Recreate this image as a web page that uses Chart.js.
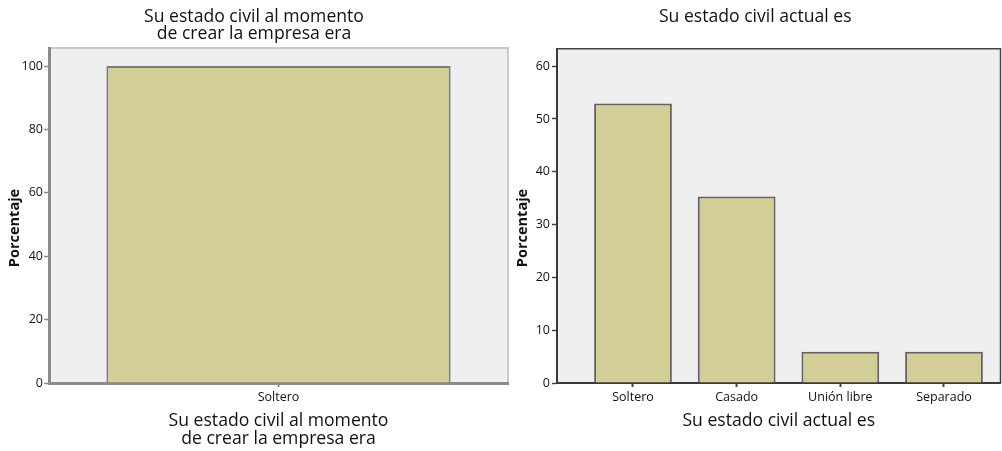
<!DOCTYPE html>
<html>
<head>
    <title>Estado civil</title>
    <script src="https://cdn.jsdelivr.net/npm/chart.js"></script>
    <style>
        body { margin: 0; background: #fff; }
        .wrap { position: relative; width: 1002px; height: 451px; }
        #leftChart { position: absolute; left: 0; top: 0; }
        #rightChart { position: absolute; left: 510px; top: 0; }
    </style>
</head>
<body>
    <div class="wrap">
        <canvas id="leftChart" width="520" height="451"></canvas>
        <canvas id="rightChart" width="492" height="451"></canvas>
    </div>

    <script>
        // datos
        const leftTitle = ['Su estado civil al momento', 'de crear la empresa era'];
        const leftCategories = ['Soltero'];
        const leftValues = [100];
        const leftTicks = [0, 20, 40, 60, 80, 100];

        const rightTitle = 'Su estado civil actual es';
        const rightCategories = ['Soltero', 'Casado', 'Unión libre', 'Separado'];
        const rightValues = [52.9, 35.3, 5.9, 5.9];
        const rightTicks = [0, 10, 20, 30, 40, 50, 60];

        const yLabel = 'Porcentaje';
        const FONT = "'Open Sans', sans-serif";

        // fondo gris y marco del area
        function boxPlugin(borderColor, borderWidth) {
            return {
                id: 'box',
                beforeDraw(chart) {
                    const a = chart.chartArea;
                    const ctx = chart.ctx;
                    ctx.save();
                    ctx.fillStyle = '#efefef';
                    ctx.fillRect(a.left, a.top, a.right - a.left, a.bottom - a.top);
                    ctx.strokeStyle = borderColor;
                    ctx.lineWidth = borderWidth;
                    ctx.beginPath();
                    ctx.moveTo(a.left, a.top);
                    ctx.lineTo(a.right, a.top);
                    ctx.lineTo(a.right, a.bottom);
                    ctx.stroke();
                    ctx.restore();
                }
            };
        }

        // titulo del eje Y (SPSS lo centra un poco mas abajo)
        function yTitlePlugin(x) {
            return {
                id: 'ytitle',
                afterDraw(chart) {
                    const ctx = chart.ctx;
                    ctx.save();
                    ctx.translate(x, 228);
                    ctx.rotate(-Math.PI / 2);
                    ctx.font = "bold 14.5px 'Open Sans', sans-serif";
                    ctx.fillStyle = '#111';
                    ctx.textAlign = 'center';
                    ctx.textBaseline = 'middle';
                    ctx.fillText(yLabel, 0, 0);
                    ctx.restore();
                }
            };
        }

        function createLeftChart() {
            const ctx = document.getElementById('leftChart').getContext('2d');
            new Chart(ctx, {
                type: 'bar',
                data: {
                    labels: leftCategories,
                    datasets: [{
                        data: leftValues,
                        backgroundColor: '#d3ce98',
                        borderColor: '#7d7d7d',
                        borderWidth: 2,
                        barPercentage: 0.75,
                        categoryPercentage: 1
                    }]
                },
                options: {
                    responsive: false,
                    animation: false,
                    layout: { padding: { left: 0, right: 12, top: 0, bottom: 0 } },
                    plugins: {
                        legend: { display: false },
                        tooltip: { enabled: false },
                        title: {
                            display: true,
                            text: leftTitle,
                            color: '#111',
                            font: { family: FONT, size: 17.6, weight: 'normal', lineHeight: 1 },
                            padding: { top: 8, bottom: 4.8 }
                        }
                    },
                    scales: {
                        x: {
                            offset: true,
                            grid: { offset: false, drawOnChartArea: false, tickLength: 4, tickColor: '#8a8a8a', tickWidth: 2 },
                            border: { color: '#8a8a8a', width: 3 },
                            ticks: { color: '#111', padding: 3, font: { family: FONT, size: 12.5 } },
                            title: {
                                display: true,
                                text: leftTitle,
                                color: '#111',
                                font: { family: FONT, size: 17.6, lineHeight: 1 },
                                padding: { top: 0, bottom: 3.5 }
                            },
                            afterFit: s => { s.height = 68; }
                        },
                        y: {
                            min: 0,
                            max: 105.7,
                            afterBuildTicks: s => { s.ticks = leftTicks.map(v => ({ value: v })); },
                            grid: { drawOnChartArea: false, tickLength: 5, tickColor: '#8a8a8a', tickWidth: 1.5 },
                            border: { color: '#8a8a8a', width: 3 },
                            ticks: { color: '#111', padding: 1, font: { family: FONT, size: 12.5 } },
                            afterFit: s => { s.width = 49; }
                        }
                    }
                },
                plugins: [boxPlugin('#c9c9c9', 2), yTitlePlugin(15)]
            });
        }

        function createRightChart() {
            const ctx = document.getElementById('rightChart').getContext('2d');
            new Chart(ctx, {
                type: 'bar',
                data: {
                    datasets: [{
                        data: rightCategories.map((c, i) => ({ x: i, y: rightValues[i] })),
                        backgroundColor: '#d3ce98',
                        borderColor: '#626262',
                        borderWidth: 2,
                        barPercentage: 0.75,
                        categoryPercentage: 1
                    }]
                },
                options: {
                    responsive: false,
                    animation: false,
                    layout: { padding: { left: 0, right: 1.5, top: 0, bottom: 0 } },
                    plugins: {
                        legend: { display: false },
                        tooltip: { enabled: false },
                        title: {
                            display: true,
                            text: rightTitle,
                            color: '#111',
                            font: { family: FONT, size: 17.6, weight: 'normal', lineHeight: 1 },
                            padding: { top: 8, bottom: 23.1 }
                        }
                    },
                    scales: {
                        x: {
                            type: 'linear',
                            min: -0.733,
                            max: 3.545,
                            offset: false,
                            afterBuildTicks: s => { s.ticks = rightCategories.map((c, i) => ({ value: i })); },
                            grid: { offset: false, drawOnChartArea: false, tickLength: 4, tickColor: '#444', tickWidth: 2 },
                            border: { color: '#3a3a3a', width: 2 },
                            ticks: {
                                color: '#111',
                                padding: 3,
                                font: { family: FONT, size: 12.5 },
                                callback: v => rightCategories[v]
                            },
                            title: {
                                display: true,
                                text: rightTitle,
                                color: '#111',
                                font: { family: FONT, size: 17.6, lineHeight: 1 },
                                padding: { top: 0, bottom: 21 }
                            },
                            afterFit: s => { s.height = 68; }
                        },
                        y: {
                            min: 0,
                            max: 63.3,
                            afterBuildTicks: s => { s.ticks = rightTicks.map(v => ({ value: v })); },
                            grid: { drawOnChartArea: false, tickLength: 5, tickColor: '#444', tickWidth: 1.5 },
                            border: { color: '#3a3a3a', width: 2 },
                            ticks: { color: '#111', padding: 2, font: { family: FONT, size: 12.5 } },
                            afterFit: s => { s.width = 47; }
                        }
                    }
                },
                plugins: [boxPlugin('#444', 1.5), yTitlePlugin(13)]
            });
        }

        createLeftChart();
        createRightChart();
    </script>
</body>
</html>
